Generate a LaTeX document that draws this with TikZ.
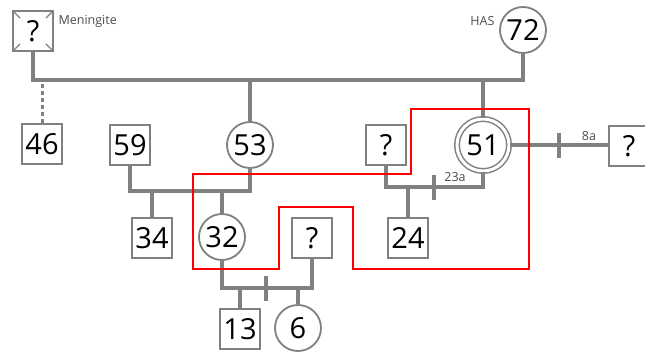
\documentclass[tikz,border=0pt]{standalone}
\usepackage{fontspec}
\setmainfont{Open Sans}
\usetikzlibrary{calc}

\begin{document}
\begin{tikzpicture}[x=1pt, y=-1pt,
  line/.style={draw=gray, line width=4pt},
  male/.style={draw=gray, line width=1.8pt, fill=white, minimum size=40pt, inner sep=0pt,
    font=\fontsize{29}{29}\selectfont},
  female/.style={male, circle, minimum size=46pt},
  note/.style={font=\fontsize{12.5}{13}\selectfont, text=black!70}]
  \useasboundingbox (0,0) rectangle (645,353);
  \def\tk{12.5}
  % levels of the sibship lines
  \coordinate (g1) at (0,80);
  \coordinate (g2) at (0,191);
  \coordinate (g3) at (0,288);
  \coordinate (g4) at (0,187);
  % first generation
  \node[male] (m0) at (33,31) {?};
  \foreach \a in {north east,north west,south east,south west}
    \draw[gray, line width=1.4pt] ($(m0.\a)!0.1!(m0.center)$) -- ($(m0.\a)!0.38!(m0.center)$);
  \node[female] (f72) at (523,30) {72};
  \node[note, anchor=west] at (55,21) {Meningite};
  \node[note, anchor=east] at (498,21) {HAS};
  % second generation
  \node[male] (m46) at (42,144) {46};
  \node[male] (m59) at (130,145) {59};
  \node[female] (f53) at (250,145) {53};
  \node[male] (mq1) at (386,145) {?};
  \node[female, minimum size=52pt, double, double distance=3pt, line width=1.5pt] (f51) at (483,145) {51};
  \node[male] (mq2) at (629,146) {?};
  % third and fourth generation
  \node[male] (m34) at (152,238) {34};
  \node[female] (f32) at (222,237) {32};
  \node[male] (mq3) at (312,238) {?};
  \node[male] (m24) at (408,238) {24};
  \node[male] (m13) at (240,329) {13};
  \node[female] (f6) at (298,328) {6};
  % couples and children
  \draw[line] (m0.south) |- (g1 -| f72.south) -- (f72.south);
  \draw[line] (f53.north) -- (f53.north |- g1);
  \draw[line] (f51.north) -- (f51.north |- g1);
  \draw[line, line width=3pt, dash pattern=on 4pt off 3pt] (m46.north) -- (m46.north |- g1);
  \draw[line] (m59.south) |- (g2 -| f53.south) -- (f53.south);
  \draw[line] (m34.north) -- (m34.north |- g2);
  \draw[line] (f32.north) -- (f32.north |- g2);
  \draw[line] (f32.south) |- (g3 -| mq3.south) -- (mq3.south);
  \draw[line] (m13.north) -- (m13.north |- g3);
  \draw[line] (f6.north) -- (f6.north |- g3);
  \draw[line] (266,288-\tk) -- (266,288+\tk);
  \draw[line] (mq1.south) |- (g4 -| f51.south) -- (f51.south);
  \draw[line] (m24.north) -- (m24.north |- g4);
  \draw[line] (434,187-\tk) -- (434,187+\tk);
  \node[note] at (455,177) {23a};
  \draw[line] (f51.east) -- (f51.east -| mq2.west);
  \draw[line] (559,145-\tk) -- (559,145+\tk);
  \node[note] at (589,136) {8a};
  % affected branch
  \draw[red, line width=2pt] (193,174) -- (411,174) -- (411,109) -- (529,109) -- (529,269)
    -- (353,269) -- (353,207) -- (279,207) -- (279,269) -- (193,269) -- cycle;
\end{tikzpicture}
\end{document}
